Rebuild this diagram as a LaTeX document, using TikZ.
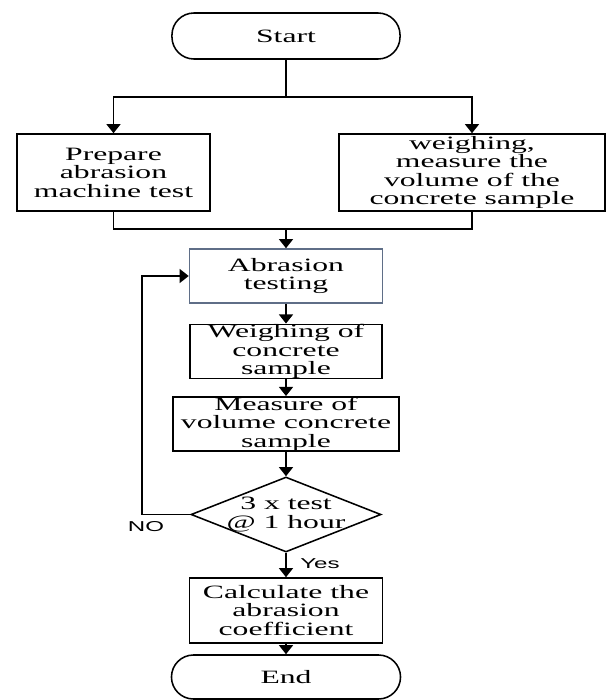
\documentclass[tikz,border=0pt]{standalone}
\usepackage{fontspec}
\setmainfont[FakeStretch=1.68]{Liberation Serif}
\newfontfamily\yesnofont[FakeStretch=1.68]{Liberation Sans}
\usetikzlibrary{positioning, shapes.geometric, arrows.meta}
\definecolor{abrblue}{RGB}{95,110,135}

\begin{document}
\begin{tikzpicture}[x=0.025cm, y=-0.025cm,
    box/.style={draw, line width=1.1pt, align=center, inner sep=0pt, font=\fontsize{13.4}{13.2}\selectfont},
    term/.style={box, rounded corners=0.55cm},
    decision/.style={box, diamond, aspect=2.53, inner xsep=-2pt, inner ysep=-2pt},
    link/.style={line width=1.1pt},
    arr/.style={link, -{Triangle[width=10pt,length=6.5pt]}},
    lbl/.style={font=\yesnofont\fontsize{10.2}{11}\selectfont, inner sep=0pt}]
    \useasboundingbox (0,0) rectangle (606,700);

    \node[term, minimum width=5.7cm, minimum height=1.15cm] (start) at (286,36) {Start};
    \node[box, minimum width=4.825cm, minimum height=1.925cm] (prep) at (113.5,172.5) {Prepare\\abrasion\\machine test};
    \node[box, minimum width=6.65cm, minimum height=1.925cm] (weigh) at (472,172.5) {weighing,\\measure the\\volume of the\\concrete sample};
    \node[box, draw=abrblue, minimum width=4.825cm, minimum height=1.35cm] (abr) at (286,276) {Abrasion\\testing};
    \node[box, minimum width=4.8cm, minimum height=1.325cm] (wsamp) at (286,351.5) {Weighing of\\concrete\\sample};
    \node[box, minimum width=5.65cm, minimum height=1.35cm] (meas) at (286,424) {Measure of\\volume concrete\\sample};
    \node[decision, minimum width=4.75cm, minimum height=1.875cm] (dec) at (286,514.5) {3 x test\\@ 1 hour};
    \node[box, minimum width=4.825cm, minimum height=1.625cm] (calc) at (286,610.5) {Calculate the\\abrasion\\coefficient};
    \node[term, minimum width=5.725cm, minimum height=1.1cm] (end) at (286,677) {End};

    \coordinate (split) at (286,97);
    \coordinate (merge) at (286,229);
    \coordinate (back) at (142,514.5);

    % Draw edges
    \draw[link] (start) -- (split);
    \draw[arr] (split) -| (prep);
    \draw[arr] (split) -| (weigh);
    \draw[link] (prep) |- (merge);
    \draw[link] (weigh) |- (merge);
    \draw[arr] (merge) -- (abr);
    \draw[arr] (abr) -- (wsamp);
    \draw[arr] (wsamp) -- (meas);
    \draw[arr] (meas) -- (dec);
    \draw[link] (dec) -- (back);
    \draw[arr] (back) |- (abr);
    \draw[arr] (dec) -- (calc);
    \draw[arr] (calc) -- (end);

    \node[lbl] (no) at (146,527) {NO};
    \node[lbl] (yes) at (320,564) {Yes};
\end{tikzpicture}
\end{document}
